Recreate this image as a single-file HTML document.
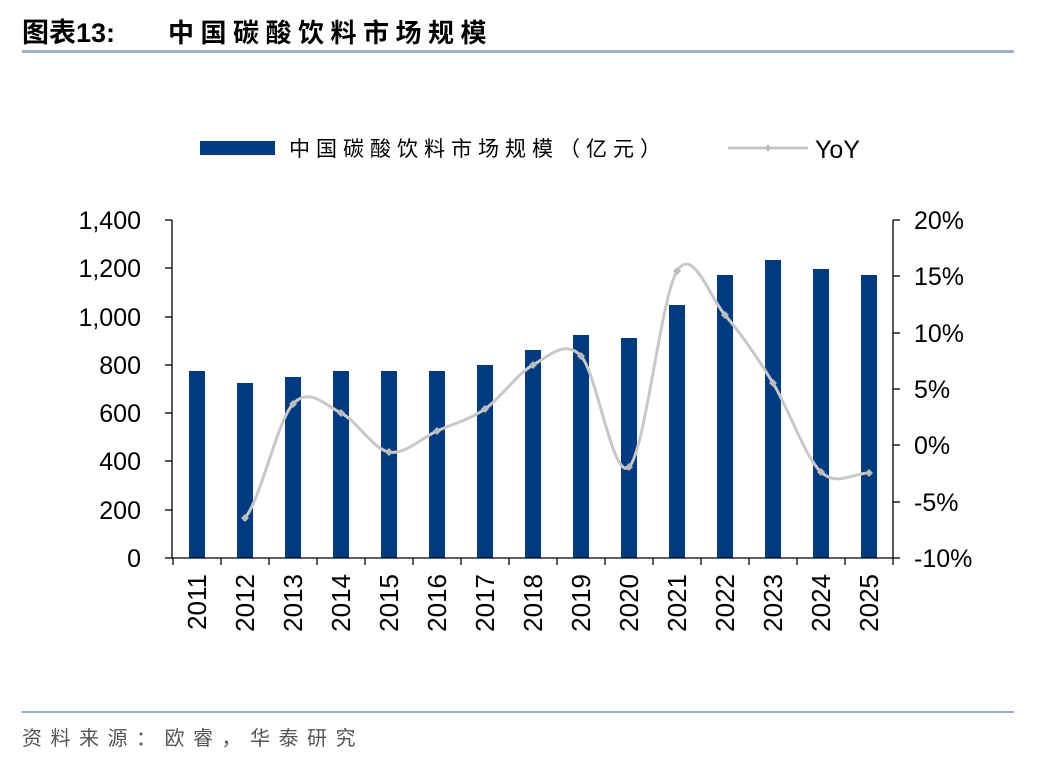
<!DOCTYPE html>
<html><head><meta charset="utf-8"><style>
body{margin:0;background:#fff;width:1048px;height:760px;overflow:hidden;font-family:"Liberation Sans","Noto Sans CJK SC",sans-serif}
</style></head><body>
<svg width="1048" height="760" xmlns="http://www.w3.org/2000/svg" font-family="Liberation Sans, Noto Sans CJK SC, sans-serif">
<text x="22" y="42" font-size="27" font-weight="bold" fill="#000">图表13:</text>
<text x="168" y="42" font-size="26" font-weight="bold" fill="#000" letter-spacing="6.5">中国碳酸饮料市场规模</text>
<rect x="22" y="50" width="992" height="3" fill="#9cb0cc"/>
<rect x="200" y="141" width="75" height="14" fill="#003a80"/>
<text x="289" y="156" font-size="21" fill="#000" letter-spacing="6">中国碳酸饮料市场规模（亿元）</text>
<line x1="728" y1="148" x2="808" y2="148" stroke="#c8c8c8" stroke-width="3"/>
<path d="M768,144 L771,148 L768,152 L765,148Z" fill="#bbb"/>
<text x="815" y="158" font-size="25" fill="#000">YoY</text>
<g fill="#003a80">
<rect x="189" y="371" width="16" height="187"/>
<rect x="237" y="383" width="16" height="175"/>
<rect x="285" y="377" width="16" height="181"/>
<rect x="333" y="371" width="16" height="187"/>
<rect x="381" y="371" width="16" height="187"/>
<rect x="429" y="371" width="16" height="187"/>
<rect x="477" y="365" width="16" height="193"/>
<rect x="525" y="350" width="16" height="208"/>
<rect x="573" y="335" width="16" height="223"/>
<rect x="621" y="338" width="16" height="220"/>
<rect x="669" y="305" width="16" height="253"/>
<rect x="717" y="275" width="16" height="283"/>
<rect x="765" y="260" width="16" height="298"/>
<rect x="813" y="269" width="16" height="289"/>
<rect x="861" y="275" width="16" height="283"/>
</g>
<g stroke="#000" stroke-width="1.3">
<line x1="172" y1="220" x2="172" y2="558"/>
<line x1="893" y1="220" x2="893" y2="558"/>
<line x1="172" y1="558" x2="893" y2="558"/>
</g>
<g stroke="#000" stroke-width="1.3">
<line x1="165" y1="220" x2="172" y2="220"/><line x1="165" y1="268" x2="172" y2="268"/><line x1="165" y1="317" x2="172" y2="317"/><line x1="165" y1="365" x2="172" y2="365"/><line x1="165" y1="413" x2="172" y2="413"/><line x1="165" y1="461" x2="172" y2="461"/><line x1="165" y1="510" x2="172" y2="510"/><line x1="165" y1="558" x2="172" y2="558"/>
<line x1="893" y1="220" x2="900" y2="220"/><line x1="893" y1="276" x2="900" y2="276"/><line x1="893" y1="333" x2="900" y2="333"/><line x1="893" y1="389" x2="900" y2="389"/><line x1="893" y1="445" x2="900" y2="445"/><line x1="893" y1="502" x2="900" y2="502"/><line x1="893" y1="558" x2="900" y2="558"/>
<line x1="173" y1="558" x2="173" y2="565"/><line x1="221" y1="558" x2="221" y2="565"/><line x1="269" y1="558" x2="269" y2="565"/><line x1="317" y1="558" x2="317" y2="565"/><line x1="365" y1="558" x2="365" y2="565"/><line x1="413" y1="558" x2="413" y2="565"/><line x1="461" y1="558" x2="461" y2="565"/><line x1="509" y1="558" x2="509" y2="565"/><line x1="557" y1="558" x2="557" y2="565"/><line x1="605" y1="558" x2="605" y2="565"/><line x1="653" y1="558" x2="653" y2="565"/><line x1="701" y1="558" x2="701" y2="565"/><line x1="749" y1="558" x2="749" y2="565"/><line x1="797" y1="558" x2="797" y2="565"/><line x1="845" y1="558" x2="845" y2="565"/><line x1="893" y1="558" x2="893" y2="565"/>
</g>
<g font-size="25" fill="#000" text-anchor="end">
<text x="141" y="229">1,400</text><text x="141" y="277">1,200</text><text x="141" y="326">1,000</text><text x="141" y="374">800</text><text x="141" y="422">600</text><text x="141" y="470">400</text><text x="141" y="519">200</text><text x="141" y="567">0</text>
</g>
<g font-size="25" fill="#000" text-anchor="start">
<text x="914" y="229">20%</text><text x="914" y="285">15%</text><text x="914" y="342">10%</text><text x="914" y="398">5%</text><text x="914" y="454">0%</text><text x="914" y="511">-5%</text><text x="914" y="567">-10%</text>
</g>
<g font-size="26" fill="#000" text-anchor="end">
<text transform="translate(206,574) rotate(-90)">2011</text>
<text transform="translate(254,574) rotate(-90)">2012</text>
<text transform="translate(302,574) rotate(-90)">2013</text>
<text transform="translate(350,574) rotate(-90)">2014</text>
<text transform="translate(398,574) rotate(-90)">2015</text>
<text transform="translate(446,574) rotate(-90)">2016</text>
<text transform="translate(494,574) rotate(-90)">2017</text>
<text transform="translate(542,574) rotate(-90)">2018</text>
<text transform="translate(590,574) rotate(-90)">2019</text>
<text transform="translate(638,574) rotate(-90)">2020</text>
<text transform="translate(686,574) rotate(-90)">2021</text>
<text transform="translate(734,574) rotate(-90)">2022</text>
<text transform="translate(782,574) rotate(-90)">2023</text>
<text transform="translate(830,574) rotate(-90)">2024</text>
<text transform="translate(878,574) rotate(-90)">2025</text>
</g>
<path d="M245,518 C261,499 277,421.5 293,404 C309,386.5 325,405 341,413 C357,421 373,449 389,452 C405,455 421,438.2 437,431 C453,423.8 469,420 485,409 C501,398 517,373.8 533,365 C549,356.2 565,339 581,356 C597,373 613,481.2 629,467 C645,452.8 661,296.3 677,271 C693,245.7 709,296.3 725,315 C741,333.7 757,356.8 773,383 C789,409.2 805,457 821,472 C837,487 853,472.8 869,473" fill="none" stroke="#c8c8c8" stroke-width="3"/>
<g fill="#bbb">
<path d="M245,514l4,4l-4,4l-4,-4z"/><path d="M293,400l4,4l-4,4l-4,-4z"/><path d="M341,409l4,4l-4,4l-4,-4z"/><path d="M389,448l4,4l-4,4l-4,-4z"/><path d="M437,427l4,4l-4,4l-4,-4z"/><path d="M485,405l4,4l-4,4l-4,-4z"/><path d="M533,361l4,4l-4,4l-4,-4z"/><path d="M581,352l4,4l-4,4l-4,-4z"/><path d="M629,463l4,4l-4,4l-4,-4z"/><path d="M677,267l4,4l-4,4l-4,-4z"/><path d="M725,311l4,4l-4,4l-4,-4z"/><path d="M773,379l4,4l-4,4l-4,-4z"/><path d="M821,468l4,4l-4,4l-4,-4z"/><path d="M869,469l4,4l-4,4l-4,-4z"/>
</g>
<rect x="22" y="711" width="992" height="2" fill="#9cb0cc"/>
<text x="22" y="745" font-size="20" fill="#555" letter-spacing="8.5">资料来源：欧睿，华泰研究</text>
</svg>
</body></html>
